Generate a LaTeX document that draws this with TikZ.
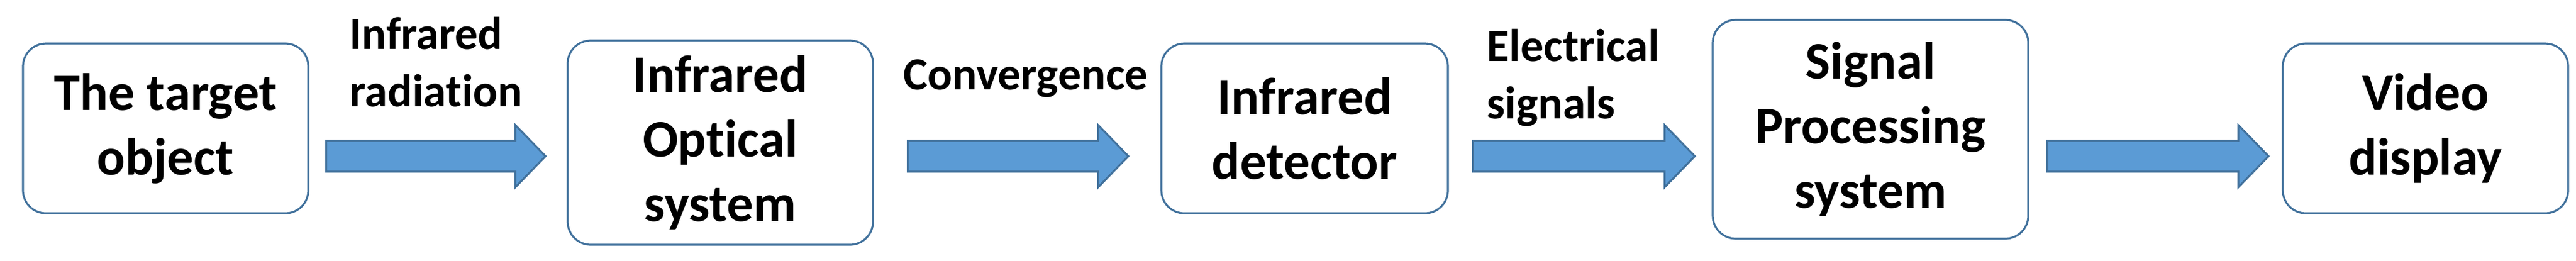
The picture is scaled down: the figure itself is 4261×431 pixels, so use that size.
\documentclass[tikz,border=0pt]{standalone}
\usepackage{fontspec}
\setmainfont[Ligatures={NoCommon}]{Carlito}
\usetikzlibrary{calc}
\definecolor{boxline}{RGB}{65, 113, 156}
\definecolor{arrowfill}{RGB}{91, 155, 213}
\tikzset{every picture/.style={line width=0.75pt}}
\tikzset{
  stagebox/.style={draw=boxline, line width=0.8pt, rounded corners=9.5pt, align=center,
    inner sep=0pt, font=\bfseries\fontsize{21.75}{26.75}\selectfont},
  flowlabel/.style={anchor=north west, align=left, inner sep=0pt,
    font=\bfseries\fontsize{19}{23.75}\selectfont},
  blockarrow/.style={draw=boxline, fill=arrowfill, line width=0.8pt,
    to path={($(\tikztostart)+(0,-25.5)$) -- ($(\tikztotarget)+(-50,-25.5)$)
      -- ($(\tikztotarget)+(-50,-51.5)$) -- (\tikztotarget)
      -- ($(\tikztotarget)+(-50,51.5)$) -- ($(\tikztotarget)+(-50,25.5)$)
      -- ($(\tikztostart)+(0,25.5)$) -- cycle}}
}

\begin{document}
\begin{tikzpicture}[x=0.25pt,y=0.25pt,yscale=-1,xscale=1]
\path[use as bounding box] (0,0) rectangle (4261,431);

%Boxes
\node[stagebox, minimum width=118pt, minimum height=70.25pt] (target) at (274,212.5) {The target\\object};
\node[stagebox, minimum width=126.25pt, minimum height=84.5pt] (optics) at (1191.5,236) {Infrared\\Optical\\system};
\node[stagebox, minimum width=118.5pt, minimum height=70.25pt] (detector) at (2158,212.5) {Infrared\\detector};
\node[stagebox, minimum width=130.5pt, minimum height=90.5pt] (processing) at (3094,214) {Signal\\Processing\\system};
\node[stagebox, minimum width=118pt, minimum height=70.25pt] (display) at (4012,212.5) {Video\\display};

%Arrow row
\coordinate (arrowrow) at (0,258.5);
\draw[blockarrow] ($(target.east |- arrowrow)+(28,0)$) to ($(optics.west |- arrowrow)+(-35,0)$);
\draw[blockarrow] ($(optics.east |- arrowrow)+(56,0)$) to ($(detector.west |- arrowrow)+(-53,0)$);
\draw[blockarrow] ($(detector.east |- arrowrow)+(40,0)$) to ($(processing.west |- arrowrow)+(-28,0)$);
\draw[blockarrow] ($(processing.east |- arrowrow)+(30,0)$) to ($(display.west |- arrowrow)+(-22,0)$);

% Text Node
\node[flowlabel] (radiation) at (577,27) {Infrared\\radiation};
% Text Node
\node[flowlabel] (convergence) at (1493,97) {Convergence};
% Text Node
\node[flowlabel] (electrical) at (2458,47) {Electrical\\signals};

\end{tikzpicture}
\end{document}
